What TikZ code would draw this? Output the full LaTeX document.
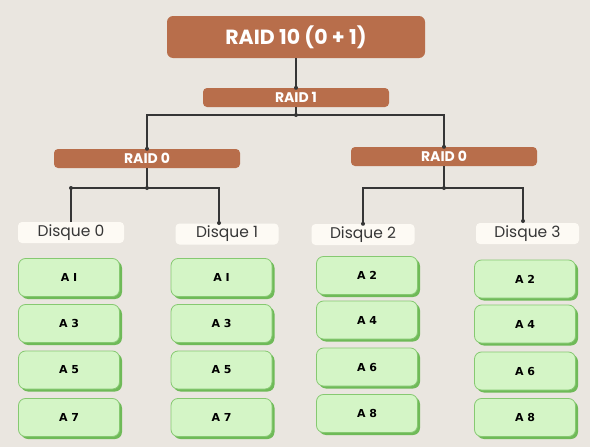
\documentclass[tikz,border=0pt]{standalone}
\usepackage{fontspec}
\setmainfont{Poppins}
\newfontfamily\cellfont{DejaVu Sans}
\usetikzlibrary{shadows}
\definecolor{paper}{HTML}{EAE6E0}
\definecolor{brick}{HTML}{B86E4B}
\definecolor{leaf}{HTML}{D4F5C6}
\definecolor{leafedge}{HTML}{86C971}
\definecolor{leafshade}{HTML}{6FBA58}
\definecolor{ink}{HTML}{363636}
\definecolor{cardwhite}{HTML}{FDFAF4}
\tikzset{
  raid/.style={fill=brick, text=white, rounded corners=4pt, inner sep=0pt,
    minimum width=186pt, minimum height=19pt, font=\bfseries\fontsize{14}{16}\selectfont},
  disk/.style={fill=cardwhite, text=ink, rounded corners=4pt, inner sep=0pt,
    minimum width=103pt, minimum height=21pt, font=\fontsize{15.5}{17}\selectfont},
  block/.style={fill=leaf, draw=leafedge, line width=0.8pt, rounded corners=7pt,
    minimum width=101pt, minimum height=38pt, inner sep=0pt,
    font=\cellfont\bfseries\fontsize{11}{13}\selectfont,
    drop shadow={shadow xshift=2.5pt, shadow yshift=-2.5pt, fill=leafshade, opacity=1}},
  wire/.style={draw=ink, line width=1.2pt},
  joint/.style={fill=ink},
}
\begin{document}
\begin{tikzpicture}[x=1pt,y=-1pt]
	    \fill[paper] (0,0) rectangle (590,447);
	    % raid levels
	    \node[raid, minimum width=258pt, minimum height=42pt, rounded corners=6pt,
	      font=\bfseries\fontsize{20.5}{24}\selectfont] (top) at (296,37) {RAID 10 (0 + 1)};
	    \node[raid] (raid1) at (296,97.5) {RAID 1};
	    \node[raid] (raid0L) at (147,158.5) {RAID 0};
	    \node[raid] (raid0R) at (444,156.5) {RAID 0};
	    % disks
	    \node[disk, minimum width=106pt] (d0) at (71,232.5) {Disque 0};
	    \node[disk] (d1) at (227,234) {Disque 1};
	    \node[disk] (d2) at (363,234.5) {Disque 2};
	    \node[disk] (d3) at (527.5,233.5) {Disque 3};
	    % junctions
	    \coordinate (j1) at (296,115);
	    \coordinate (jL) at (147,188);
	    \coordinate (jR) at (444,188);
	    \coordinate (e1) at (219,223);
	    \coordinate (e3) at (523,221);
	    \draw[wire] (top.south) -- (raid1.north);
	    \draw[wire] (raid1.south) -- (j1);
	    \draw[wire] (raid0L.north) |- (j1) -| (raid0R.north);
	    \draw[wire] (raid0L.south) -- (jL);
	    \draw[wire] (d0.north) |- (jL) -| (e1);
	    \draw[wire] (raid0R.south) -- (jR);
	    \draw[wire] (d2.north) |- (jR) -| (e3);
	    \foreach \p in {raid1.north, j1, raid0L.north, raid0R.north, jL, d0.north |- jL, e1, jR, d2.north, e3}
	      \fill[joint] (\p) circle (2pt);
	    % blocks
	    \foreach \y/\t [count=\i] in {277.5/A I, 323.5/A 3, 370/A 5, 417.5/A 7}
	      \node[block] (a\i) at (69,\y) {\t};
	    \foreach \y/\t [count=\i] in {277.5/A I, 323.5/A 3, 370/A 5, 417.5/A 7}
	      \node[block] (b\i) at (221.5,\y) {\t};
	    \foreach \y/\t [count=\i] in {275.5/A 2, 320/A 4, 367/A 6, 413.5/A 8}
	      \node[block] (c\i) at (367,\y) {\t};
	    \foreach \y/\t [count=\i] in {279/A 2, 324/A 4, 371/A 6, 417.5/A 8}
	      \node[block] (e\i) at (525,\y) {\t};
\end{tikzpicture}
\end{document}
